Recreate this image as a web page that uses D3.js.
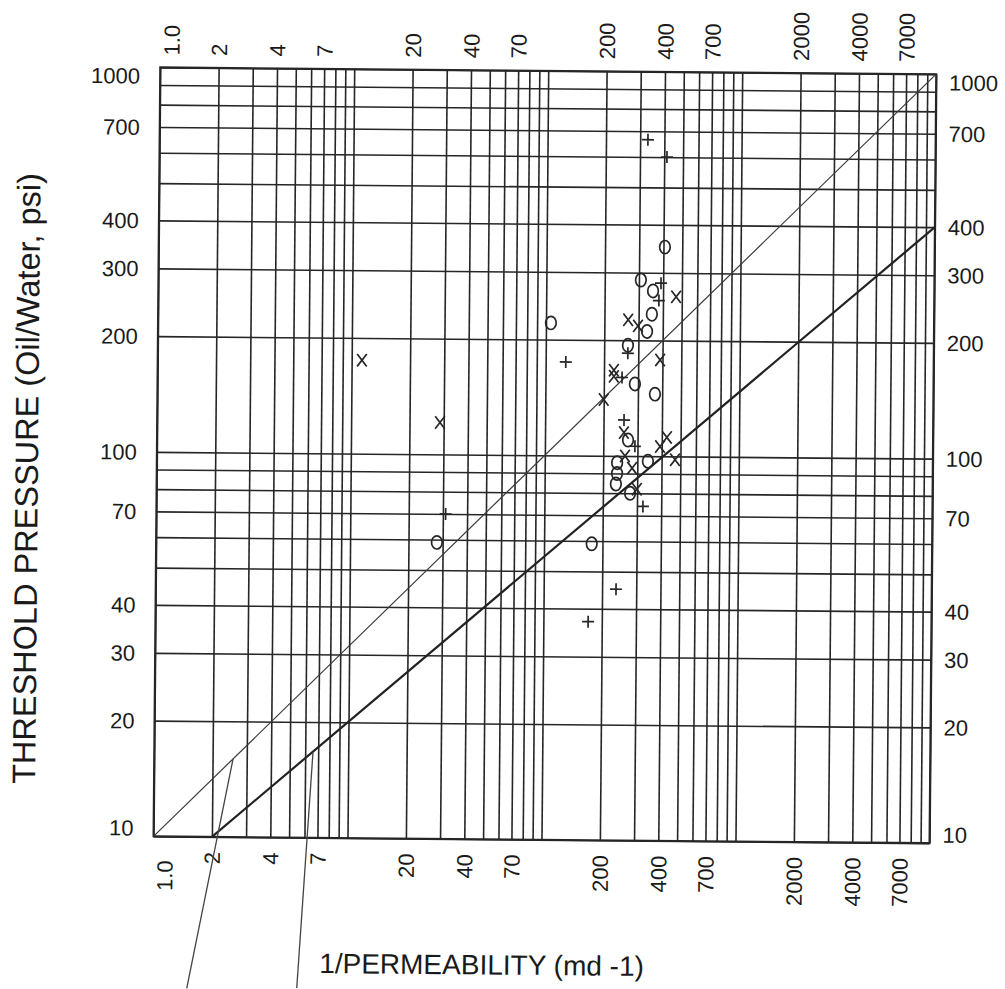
<!DOCTYPE html>
<html>
<head>
<meta charset="utf-8">
<script src="https://cdn.jsdelivr.net/npm/d3@7"></script>
<style>
  html, body { margin: 0; padding: 0; background: #fff; }
  svg { display: block; }
  text { font-family: "Liberation Sans", Arial, Helvetica, sans-serif; fill: #1a1a1a; }
</style>
</head>
<body>
<svg id="chart" width="1005" height="989"></svg>
<script>
// Labelled ticks on the 1/permeability axis (top and bottom)
const xTickValues = [1, 2, 4, 7, 20, 40, 70, 200, 400, 700, 2000, 4000, 7000];
const xTickLabels = ["1.0", "2", "4", "7", "20", "40", "70", "200", "400", "700", "2000", "4000", "7000"];
// Labelled ticks on the threshold-pressure axis (left and right)
const yTickValues = [10, 20, 30, 40, 70, 100, 200, 300, 400, 700, 1000];
const yTickLabels = ["10", "20", "30", "40", "70", "100", "200", "300", "400", "700", "1000"];

// Samples as [1/permeability (md^-1), threshold pressure (psi)]
const circleSamples = [
  [106, 221], [307, 287], [355, 269], [407, 350], [351, 234], [332, 211],
  [265, 194], [289, 154], [367, 145], [268, 110], [340, 97], [236, 96],
  [236, 90], [233, 84.5], [276, 80], [176, 59], [28, 59]
];
const crossSamples = [
  [11.3, 175], [28.7, 121], [265, 226], [298, 218], [467, 260], [389, 178],
  [225, 167], [225, 161], [200, 140], [255, 115], [392, 106], [425, 112],
  [469, 98], [259, 100], [282, 93], [299, 82]
];
const plusSamples = [
  [329, 665], [413, 600], [390, 282], [381, 254], [127, 175], [265, 185],
  [248, 160], [255, 124], [291, 106], [322, 74], [236, 45], [170, 37], [31, 70]
];

// Reference lines drawn across the grid, as [x, y] end points
const upperLine = [[1, 10], [10000, 1000]];
const lowerLine = [[2, 10], [10000, 400]];
// Leader lines running from below the axis up to the reference lines
const leaderA = [[1.507, 4.03], [2.55, 15.97]];
const leaderB = [[5.56, 4.06], [6.58, 16.7]];

const svg = d3.select("#chart");
const plotLeft = 156.85, plotRight = 932.85, plotTop = 70.75, plotBottom = 839.75;

const x = d3.scaleLog().domain([1, 10000]).range([plotLeft, plotRight]);
const y = d3.scaleLog().domain([10, 1000]).range([plotBottom, plotTop]);

// the whole sheet sits at a slight clockwise tilt
const root = svg.append("g").attr("transform", "rotate(0.5, 545, 455)");

const ink = "#262626";

// log grid: every 1..9 multiple in each decade
const vGrid = root.append("g")
  .attr("transform", `translate(0,${plotBottom})`)
  .call(d3.axisBottom(x).tickValues(x.ticks()).tickSize(-(plotBottom - plotTop)).tickFormat(""));
vGrid.select(".domain").remove();
vGrid.selectAll("line").attr("stroke", ink).attr("stroke-width", 1.6);

const hGrid = root.append("g")
  .attr("transform", `translate(${plotLeft},0)`)
  .call(d3.axisLeft(y).tickValues(y.ticks()).tickSize(-(plotRight - plotLeft)).tickFormat(""));
hGrid.select(".domain").remove();
hGrid.selectAll("line").attr("stroke", ink).attr("stroke-width", 1.6);

// frame
root.append("rect")
  .attr("x", plotLeft).attr("y", plotTop)
  .attr("width", plotRight - plotLeft).attr("height", plotBottom - plotTop)
  .attr("fill", "none").attr("stroke", ink).attr("stroke-width", 2);

// tick labels
const fontSize = 22;
const xFmt = d => xTickLabels[xTickValues.indexOf(d)];
const yFmt = d => yTickLabels[yTickValues.indexOf(d)];

function styleAxis(g) {
  g.select(".domain").remove();
  g.attr("font-size", fontSize).attr("font-family", '"Liberation Sans", Arial, sans-serif');
  g.selectAll("text").attr("fill", "#1a1a1a");
}

const topAxis = root.append("g")
  .attr("transform", `translate(0,${plotTop})`)
  .call(d3.axisTop(x).tickValues(xTickValues).tickSize(0).tickFormat(xFmt))
  .call(styleAxis);
topAxis.selectAll(".tick text")
  .attr("transform", "rotate(-90)")
  .attr("x", 12)
  .attr("y", d => d === 1 ? 11 : 0)
  .attr("dy", "0.35em")
  .attr("text-anchor", "start");

const bottomAxis = root.append("g")
  .attr("transform", `translate(0,${plotBottom})`)
  .call(d3.axisBottom(x).tickValues(xTickValues).tickSize(0).tickFormat(xFmt))
  .call(styleAxis);
bottomAxis.selectAll(".tick text")
  .attr("transform", "rotate(-90)")
  .attr("x", d => d === 1 ? -24 : -15)
  .attr("y", d => d === 1 ? 11 : 0)
  .attr("dy", "0.35em")
  .attr("text-anchor", "end");

const yDy = d => d === 1000 ? "0.72em" : d === 10 ? "-0.05em" : "0.34em";

const leftAxis = root.append("g")
  .attr("transform", `translate(${plotLeft},0)`)
  .call(d3.axisLeft(y).tickValues(yTickValues).tickSize(0).tickPadding(20).tickFormat(yFmt))
  .call(styleAxis);
leftAxis.selectAll(".tick text").attr("dy", yDy);

const rightAxis = root.append("g")
  .attr("transform", `translate(${plotRight},0)`)
  .call(d3.axisRight(y).tickValues(yTickValues).tickSize(0).tickPadding(13).tickFormat(yFmt))
  .call(styleAxis);
rightAxis.selectAll(".tick text").attr("dy", yDy);

// reference and leader lines
const line = d3.line().x(d => x(d[0])).y(d => y(d[1]));
root.append("path").attr("d", line(upperLine))
  .attr("fill", "none").attr("stroke", "#3a3a3a").attr("stroke-width", 1.2);
root.append("path").attr("d", line(lowerLine))
  .attr("fill", "none").attr("stroke", "#222").attr("stroke-width", 2.2);
[leaderA, leaderB].forEach(l => {
  root.append("path").attr("d", line(l))
    .attr("fill", "none").attr("stroke", "#444").attr("stroke-width", 1.3);
});

// sample markers
const marks = root.append("g").attr("fill", "none").attr("stroke", "#262626").attr("stroke-width", 1.7);

marks.selectAll(".o").data(circleSamples).join("ellipse")
  .attr("class", "o")
  .attr("cx", d => x(d[0])).attr("cy", d => y(d[1]))
  .attr("rx", 5.3).attr("ry", 6.6);

marks.selectAll(".x").data(crossSamples).join("path")
  .attr("class", "x")
  .attr("d", d => {
    const cx = x(d[0]), cy = y(d[1]), a = 4.8, b = 6.2;
    return `M${cx - a},${cy - b}L${cx + a},${cy + b}M${cx + a},${cy - b}L${cx - a},${cy + b}`;
  });

marks.selectAll(".p").data(plusSamples).join("path")
  .attr("class", "p")
  .attr("d", d => {
    const cx = x(d[0]), cy = y(d[1]), r = 6;
    return `M${cx - r},${cy}L${cx + r},${cy}M${cx},${cy - r}L${cx},${cy + r}`;
  });

// axis titles
root.append("text")
  .attr("transform", "translate(38,483) rotate(-90)")
  .attr("text-anchor", "middle")
  .attr("font-size", 32.5)
  .text("THRESHOLD PRESSURE (Oil/Water, psi)");

root.append("text")
  .attr("x", 486).attr("y", 975)
  .attr("text-anchor", "middle")
  .attr("font-size", 28)
  .text("1/PERMEABILITY (md -1)");
</script>
</body>
</html>
